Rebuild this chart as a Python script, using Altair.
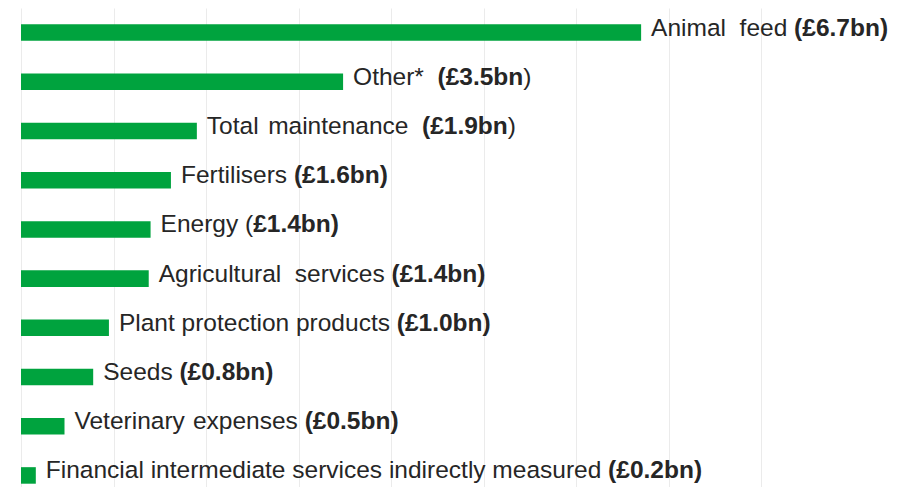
import re
import altair as alt
import pandas as pd

# ---- data ----
categories = [
    "Animal feed", "Other*", "Total maintenance", "Fertilisers", "Energy",
    "Agricultural services", "Plant protection products", "Seeds",
    "Veterinary expenses", "Financial intermediate services indirectly measured",
]
values = [6.70, 3.48, 1.90, 1.62, 1.40, 1.38, 0.95, 0.78, 0.47, 0.16]

# label pieces: (text, is_bold)
label_parts = [
    [("Animal  feed ", 0), ("(£6.7bn)", 1)],
    [("Other*  ", 0), ("(£3.5bn", 1), (")", 0)],
    [("Total maintenance  ", 0), ("(£1.9bn", 1), (")", 0)],
    [("Fertilisers ", 0), ("(£1.6bn)", 1)],
    [("Energy (", 0), ("£1.4bn)", 1)],
    [("Agricultural  services ", 0), ("(£1.4bn)", 1)],
    [("Plant protection products ", 0), ("(£1.0bn)", 1)],
    [("Seeds ", 0), ("(£0.8bn)", 1)],
    [("Veterinary expenses ", 0), ("(£0.5bn)", 1)],
    [("Financial intermediate services indirectly measured ", 0), ("(£0.2bn)", 1)],
]
grid_values = [0, 1, 2, 3, 4, 5, 6, 7, 8]

# ---- layout / style ----
W, H = 833, 479
XMAX = 9
YMAX = 9.235
FONT = "Liberation Sans"
FS = 24.5
GAP = 10
GREEN = "#00A33E"
TEXT = "#262626"

# Arial (Liberation Sans) advance widths, 1/1000 em
REG = {" ": 278, "(": 333, ")": 333, "*": 389, "£": 556, ".": 278,
       "A": 667, "E": 667, "F": 611, "O": 778, "P": 667, "S": 667, "T": 611, "V": 667,
       "a": 556, "b": 556, "c": 500, "d": 556, "e": 556, "f": 278, "g": 556, "h": 556,
       "i": 222, "j": 222, "k": 500, "l": 222, "m": 833, "n": 556, "o": 556, "p": 556,
       "q": 556, "r": 333, "s": 500, "t": 278, "u": 556, "v": 500, "w": 722, "x": 500,
       "y": 500, "z": 500}
BOLD = {" ": 278, "(": 333, ")": 333, "£": 556, ".": 278, "b": 611, "n": 611}


def text_width(s, bold):
    table = BOLD if bold else REG
    return sum(table.get(ch, 556) for ch in s) * FS / 1000.0


px_per_unit = W / XMAX
seg_rows = []
for i, (v, parts) in enumerate(zip(values, label_parts)):
    off = GAP
    for text, bold in parts:
        for tok in re.split(r"( +)", text):
            if tok == "":
                continue
            if tok.strip():
                seg_rows.append({"idx": i, "x": v + off / px_per_unit, "text": tok,
                                 "bold": bold})
            off += text_width(tok, bold)

segs = pd.DataFrame(seg_rows)
bars = pd.DataFrame({"cat": categories, "idx": list(range(len(categories))), "value": values})

xscale = alt.Scale(domain=[0, XMAX], nice=False, zero=True)
yscale = alt.Scale(domain=[-0.5, YMAX], reverse=True, nice=False, zero=False)

bar_layer = alt.Chart(bars).transform_calculate(
    start="0", y0="datum.idx - 0.168", y1="datum.idx + 0.168"
).mark_rect(color=GREEN).encode(
    x=alt.X("start:Q", scale=xscale,
            axis=alt.Axis(values=grid_values, grid=True, gridColor="#ebebeb", gridWidth=1,
                          labels=False, ticks=False, domain=False, title=None)),
    x2="value:Q",
    y=alt.Y("y0:Q", scale=yscale, axis=None),
    y2="y1:Q",
)

text_normal = alt.Chart(segs[segs.bold == 0]).mark_text(
    align="left", baseline="alphabetic", dy=3, font=FONT, fontSize=FS, color=TEXT
).encode(
    x=alt.X("x:Q", scale=xscale),
    y=alt.Y("idx:Q", scale=yscale),
    text="text:N",
)

text_bold = alt.Chart(segs[segs.bold == 1]).mark_text(
    align="left", baseline="alphabetic", dy=3, font=FONT, fontSize=FS, color=TEXT,
    fontWeight="bold"
).encode(
    x=alt.X("x:Q", scale=xscale),
    y=alt.Y("idx:Q", scale=yscale),
    text="text:N",
)

chart = alt.layer(bar_layer, text_normal, text_bold).properties(
    width=W, height=H,
    autosize=alt.AutoSizeParams(type="none"),
    padding={"left": 13, "top": 0, "right": 40, "bottom": 0},
).configure_view(stroke=None)

chart.save("out.html", embed_options={"renderer": "svg", "actions": False})
